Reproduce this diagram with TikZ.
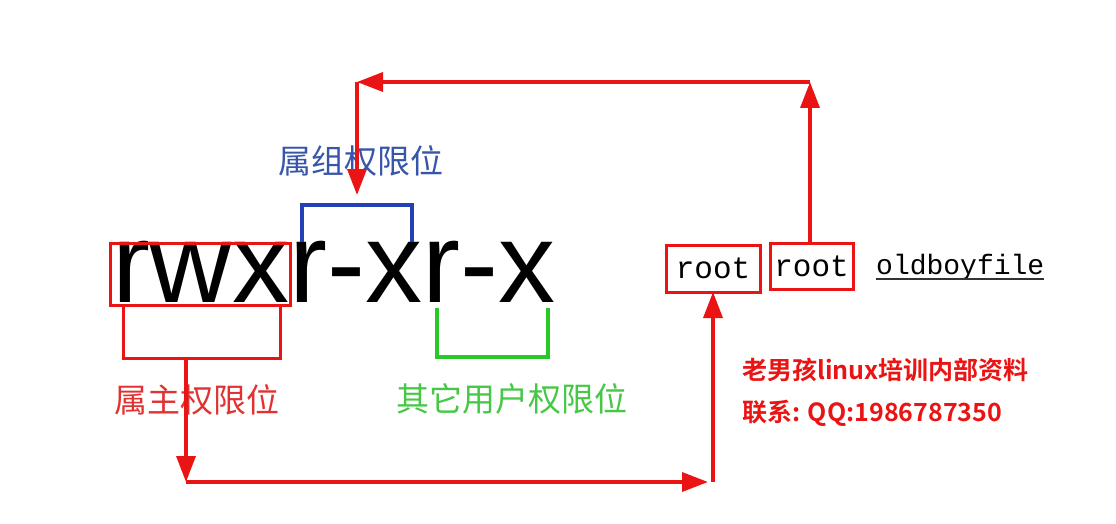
\documentclass[tikz,border=0pt]{standalone}
\usepackage{fontspec}
\setmainfont{Liberation Sans}
\newfontfamily\cjk{Noto Sans CJK SC}
\newfontfamily\cjkb{Noto Sans CJK SC Bold}
\newfontfamily\mono{Liberation Mono}
\usetikzlibrary{arrows.meta}
\definecolor{myred}{RGB}{235,20,20}
\definecolor{lblred}{RGB}{225,50,50}
\definecolor{myblue}{RGB}{35,65,180}
\definecolor{lblblue}{RGB}{55,85,170}
\definecolor{mygreen}{RGB}{40,200,40}
\definecolor{lblgreen}{RGB}{70,200,70}
\tikzset{
  big/.style={inner sep=0pt,outer sep=0pt,font=\fontsize{114}{130}\selectfont},
  redbox/.style={draw=myred,line width=3pt,inner sep=0pt,outer sep=0pt},
  rootbox/.style={draw=myred,line width=3pt,inner sep=0pt,outer sep=0pt,font=\mono\fontsize{31}{34}\selectfont},
  lbl/.style={inner sep=0pt,font=\cjk\fontsize{33}{38}\selectfont},
  note/.style={inner sep=0pt,anchor=west,text=myred,font=\cjkb\fontsize{25}{28}\selectfont},
  arr/.style={draw=myred,line width=3.5pt,-{Triangle[length=26pt,width=19pt]}},
}
\begin{document}
\begin{tikzpicture}[x=1pt,y=-1pt]
\useasboundingbox[fill=white] (0,0) rectangle (1116,524);
% permission string
\node[big,anchor=base west] (own) at (112,302) {rwx};
\node[big,anchor=base west] (grp) at (own.base east) {r-x};
\node[big,anchor=base west] (oth) at (grp.base east) {r-x};
% owner boxes
\node[redbox,minimum width=180pt,minimum height=62pt] (ownbox) at (200,274) {};
\node[redbox,minimum width=157pt,minimum height=53pt] (lowbox) at (201.5,331.5) {};
% group bracket
\draw[myblue,line width=3.5pt] (302,242) -- (302,205) -- (412,205) -- (412,242);
\coordinate (grptop) at (357,195);
% other bracket
\draw[mygreen,line width=3.5pt] (437,308) -- (437,357) -- (548,357) -- (548,308);
% labels
\node[lbl,text=lblblue] (lgrp) at (361,161) {属组权限位};
\node[lbl,text=lblred] (lown) at (197,400) {属主权限位};
\node[lbl,text=lblgreen] (loth) at (512,399) {其它用户权限位};
% root boxes and file name
\node[rootbox,minimum width=94pt,minimum height=47pt] (root1) at (713,268.5) {root};
\node[rootbox,minimum width=83pt,minimum height=46pt] (root2) at (811.5,266) {root};
\node[inner sep=0pt,anchor=base west,font=\mono\fontsize{28}{32}\selectfont] (file) at (876,274) {oldboyfile};
\draw[line width=1.5pt,black!80] ([yshift=-5pt]file.base west) -- ([yshift=-5pt]file.base east);
% notes
\node[note] (n1) at (742,370) {老男孩linux培训内部资料};
\node[note] (n2) at (742,413) {联系: QQ:1986787350};
% arrows bottom
\coordinate (b1) at (186,482);
\coordinate (b2) at (713,482);
\draw[arr] (b1 |- lowbox.south) -- (b1);
\draw[arr] (b1) -- ([xshift=-5pt]b2);
\draw[arr] (b2) -- (root1.south);
% arrows top
\coordinate (t1) at (810,82);
\coordinate (t2) at (357,82);
\draw[arr] (t1 |- root2.north) -- (t1);
\draw[arr] (t1) -- (t2);
\draw[arr] (t2) -- (grptop);
\end{tikzpicture}
\end{document}
